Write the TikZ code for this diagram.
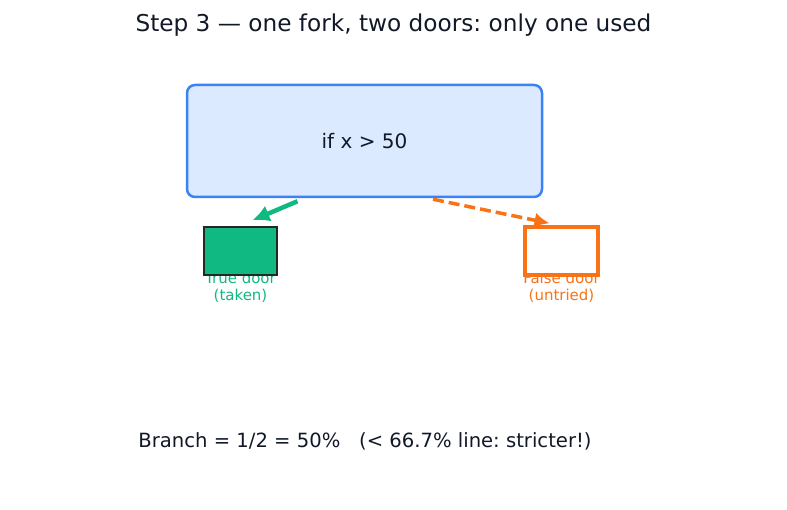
\documentclass[tikz,border=0pt]{standalone}
\usepackage{fontspec}
\setmainfont{DejaVu Sans}
\usetikzlibrary{arrows.meta,positioning,calc}

\definecolor{condblue}{HTML}{3B82F6}
\definecolor{condfill}{HTML}{DBEAFE}
\definecolor{truegreen}{HTML}{10B981}
\definecolor{falseorange}{HTML}{F97316}
\definecolor{inkgray}{HTML}{111827}

\tikzset{
  door/.style={minimum width=73pt, minimum height=48pt, inner sep=0pt},
  doorlabel/.style={align=center, inner sep=0pt, font=\fontsize{15}{17}\selectfont},
}

\frenchspacing

\begin{document}
\begin{tikzpicture}[x=1pt,y=-1pt]

        \useasboundingbox (0,0) rectangle (787,510);

        % Title
        \node[text=inkgray, font=\fontsize{23.2}{28}\selectfont] (title) at (393.5,25) {Step 3 — one fork, two doors: only one used};

        % the fork
        \node[draw=condblue, fill=condfill, line width=2.5pt, rounded corners=8pt, minimum width=355pt, minimum height=112pt, text=inkgray, font=\fontsize{20}{24}\selectfont] (cond) at (364.5,141) {if x > 50};

        % door labels first, the doors sit on top of them
        \node[doorlabel, text=truegreen] (true_label) at (240.5,287) {True door\\(taken)};
        \node[doorlabel, text=falseorange] (false_label) at (561.5,287) {False door\\(untried)};

        % the two doors
        \node[door, draw=black!85, fill=truegreen, line width=1.5pt] (true_door) at (240.5,251) {};
        \node[door, draw=falseorange, fill=white, line width=3.5pt] (false_door) at (561.5,251) {};

        % arrows
        \coordinate (t_from) at ($(cond.south) + (-67,3)$);
        \coordinate (t_to) at ($(true_door.north) + (12,-6)$);
        \coordinate (f_from) at ($(cond.south) + (68.5,1)$);
        \coordinate (f_to) at ($(false_door.north) + (-12,-2)$);
        \draw[truegreen, line width=4.5pt, -{Latex[length=17pt,width=17pt]}] (t_from) -- (t_to);
        \draw[falseorange, line width=3.5pt, dash pattern=on 11pt off 5pt, -{Latex[length=15pt,width=15pt]}] (f_from) -- (f_to);

        % bottom line
        \node[text=inkgray, font=\fontsize{19.6}{24}\selectfont] (branch_label) at (365,441) {Branch = 1/2 = 50\%\ \ \ (< 66.7\% line: stricter!)};

\end{tikzpicture}
\end{document}
